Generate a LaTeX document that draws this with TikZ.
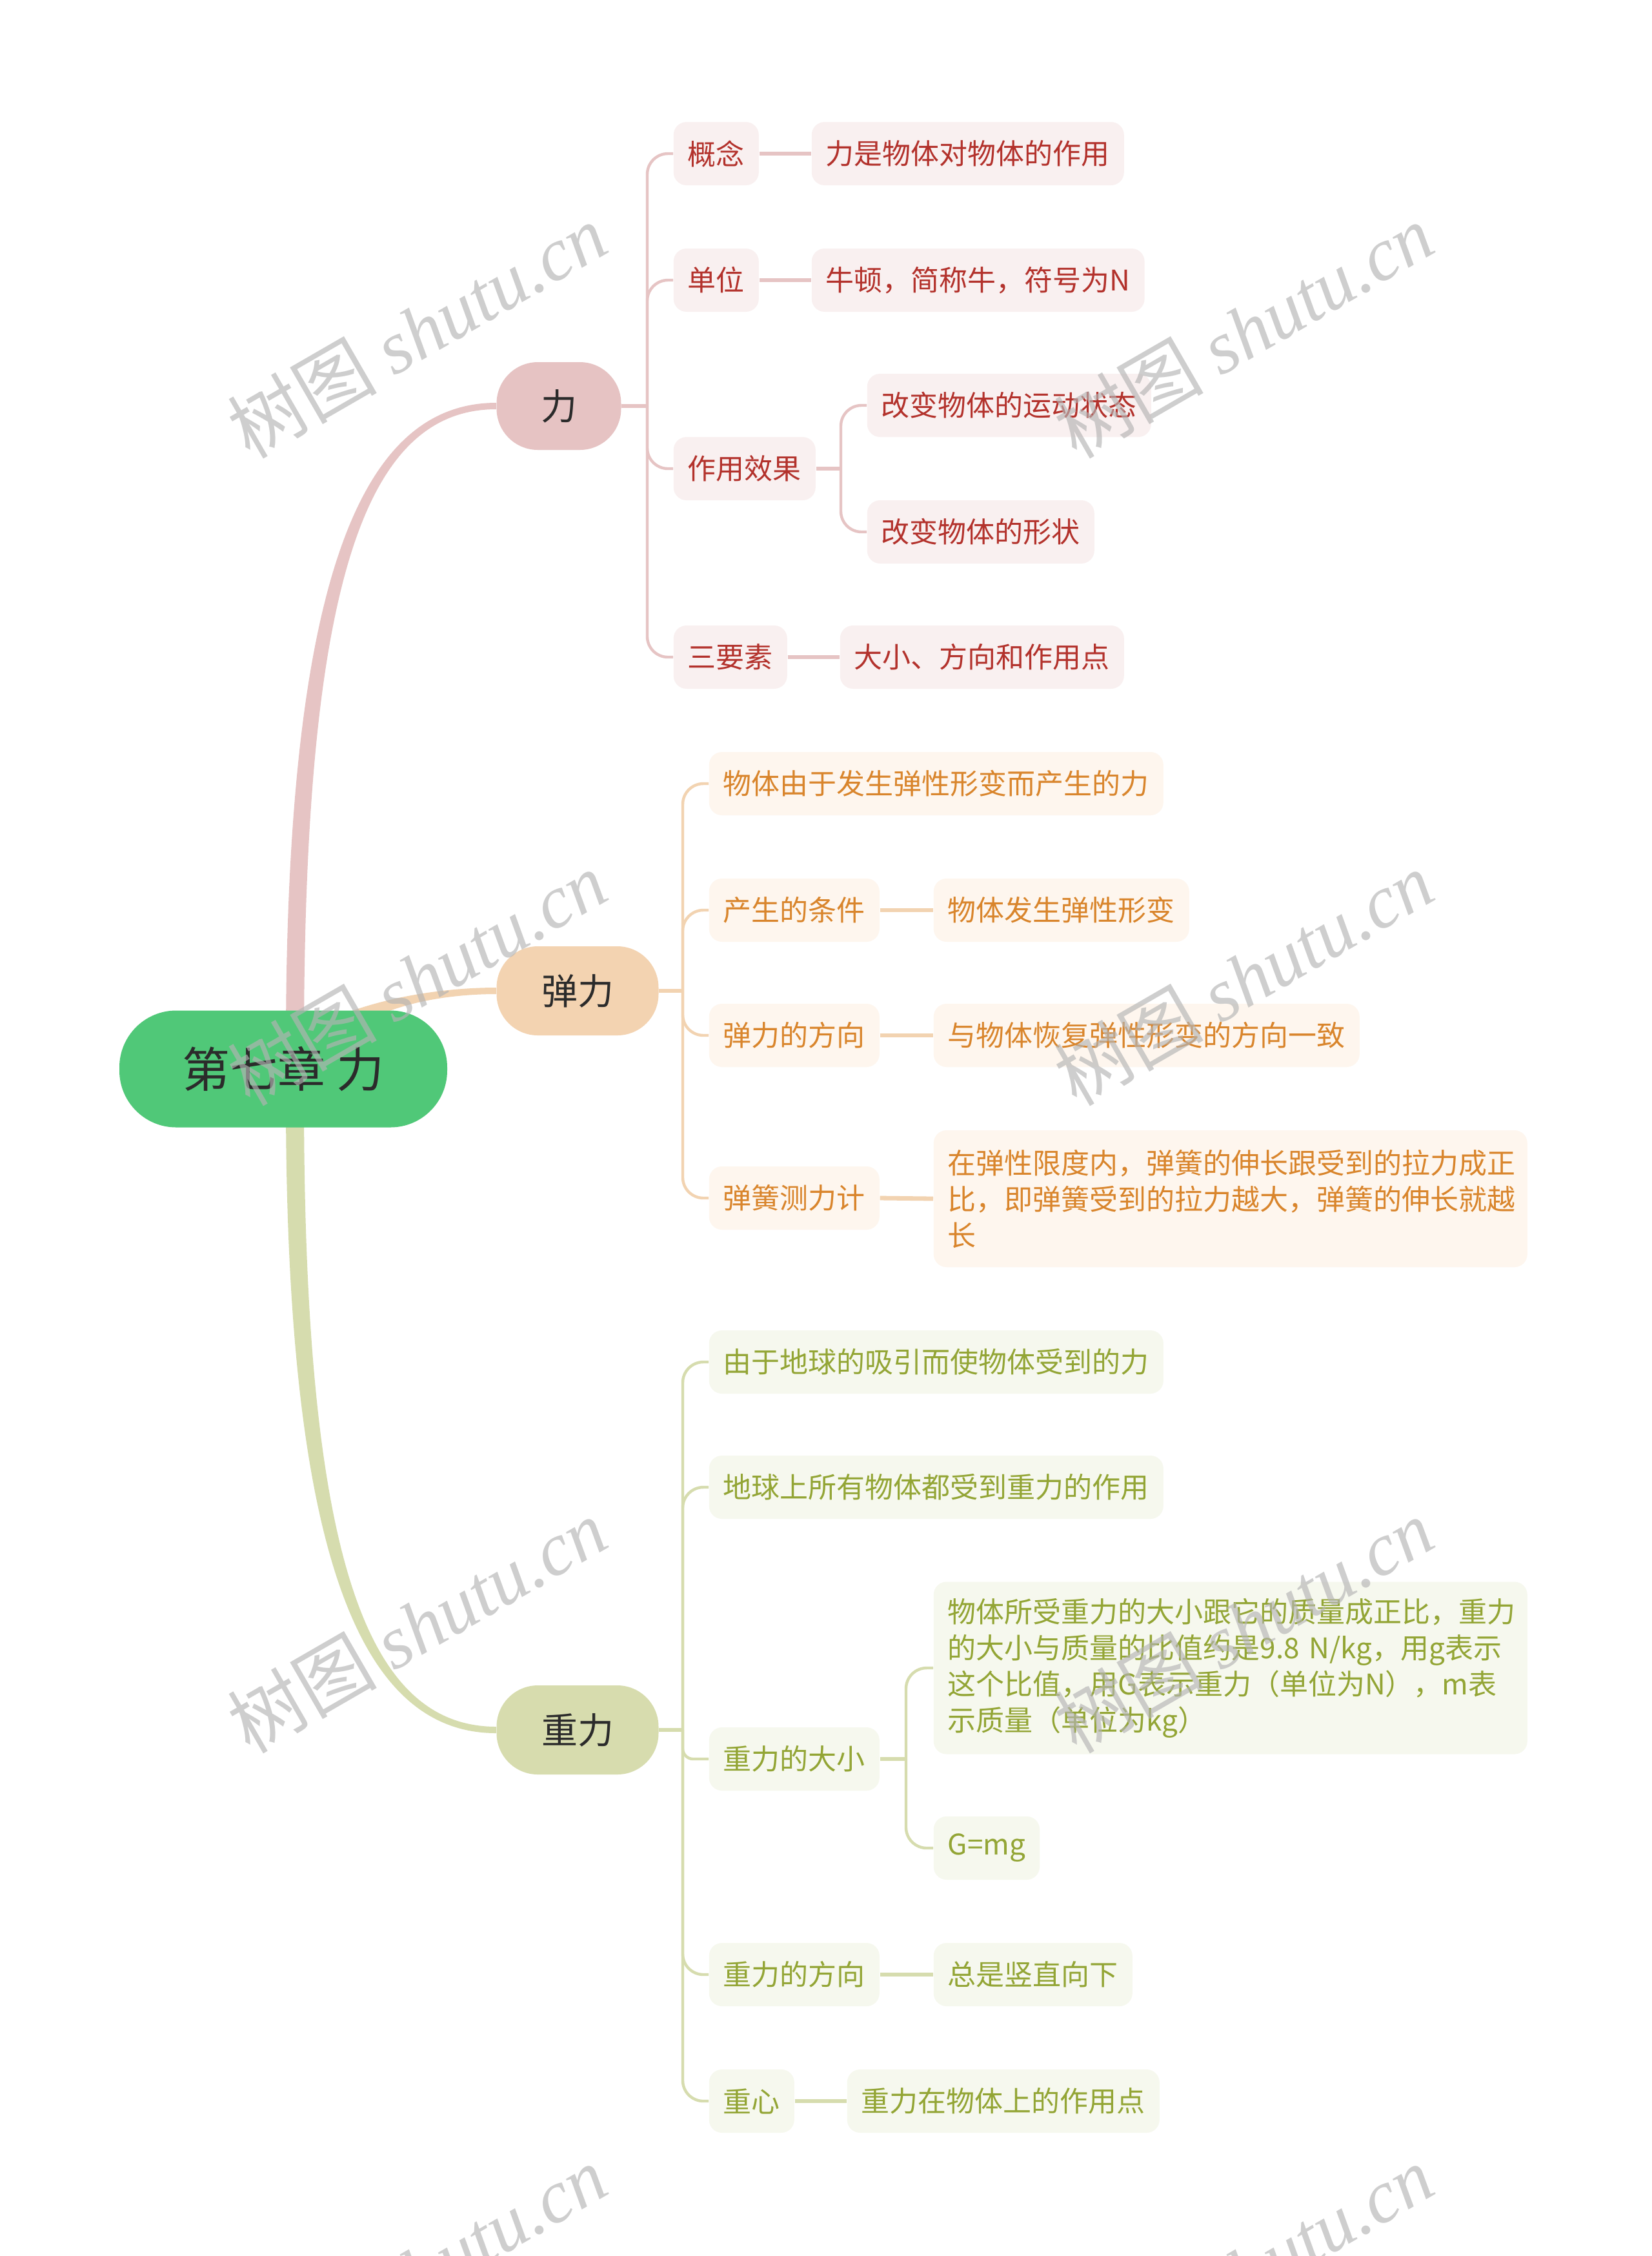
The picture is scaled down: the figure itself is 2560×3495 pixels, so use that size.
\documentclass[tikz,border=0pt]{standalone}
\usepackage{fontspec}
\setmainfont{Noto Sans CJK SC}
\newfontfamily\wmlatin{Liberation Serif}
\newfontfamily\wmcjk{Noto Sans CJK SC}
\definecolor{pkLine}{HTML}{E6C4C4}
\definecolor{pkMain}{HTML}{E6C3C3}
\definecolor{pkSub}{HTML}{F9F0F0}
\definecolor{pkText}{HTML}{B3322C}
\definecolor{ogLine}{HTML}{F2D3B1}
\definecolor{ogMain}{HTML}{F3D3B1}
\definecolor{ogSub}{HTML}{FEF6EE}
\definecolor{ogText}{HTML}{D9852C}
\definecolor{olLine}{HTML}{D6DCAE}
\definecolor{olMain}{HTML}{D7DCAE}
\definecolor{olSub}{HTML}{F6F8EE}
\definecolor{olText}{HTML}{93A535}
\definecolor{rootFill}{HTML}{50C878}
\definecolor{darkText}{HTML}{2B2B2B}
\definecolor{wmGray}{HTML}{B4B4B4}
\begin{document}
\begin{tikzpicture}[x=0.25pt,y=-0.25pt,
  base/.style={rounded corners=5pt, minimum height=24.5pt, inner xsep=5.5pt, inner ysep=3pt,
    font=\fontsize{11pt}{14pt}\selectfont, anchor=west},
  pk/.style={base, fill=pkSub, text=pkText},
  og/.style={base, fill=ogSub, text=ogText},
  ol/.style={base, fill=olSub, text=olText},
  mainnode/.style={rounded corners=16pt, minimum height=34pt, text=darkText,
    font=\fontsize{14pt}{17pt}\selectfont},
  lnk/.style={line width=1.1pt},
  hlk/.style={line width=1.7pt},
  stem/.style={line width=1.5pt},
  wm/.style={text=wmGray, text opacity=0.65, rotate=30, font=\fontsize{29pt}{29pt}\selectfont}
]
\useasboundingbox (0,0) rectangle (2560,3495);
\clip (0,0) rectangle (2560,3495);
\fill[white] (0,0) rectangle (2560,3495);

% main tapered connectors
\fill[pkLine] (443,1620) .. controls (443,895) and (560,624) .. (769,624)
  -- (769,634) .. controls (565,634) and (471,905) .. (471,1620) -- cycle;
\fill[olLine] (443,1700) .. controls (443,2415) and (560,2685) .. (769,2685)
  -- (769,2675) .. controls (565,2675) and (471,2405) .. (471,1700) -- cycle;
\fill[ogLine] (470,1600) .. controls (560,1548) and (680,1530) .. (769,1530)
  -- (769,1540) .. controls (680,1540) and (580,1560) .. (530,1610) -- cycle;

% root
\node[fill=rootFill, rounded corners=22pt, minimum width=127pt, minimum height=45.25pt,
  text=darkText, font=\fontsize{18.5pt}{22pt}\selectfont] (root) at (439,1656) {第七章 力};

% main nodes
\node[mainnode, fill=pkMain, minimum width=48.25pt] (li) at (866,629) {力};
\node[mainnode, fill=ogMain, minimum width=62.75pt, minimum height=34.5pt] (tl) at (895,1535) {弹力};
\node[mainnode, fill=olMain, minimum width=62.75pt, minimum height=34.5pt] (zl) at (895,2680) {重力};

% 力 branch
\node[pk] (a1) at (1043,238) {概念};
\node[pk] (a1t) at (1257,238) {力是物体对物体的作用};
\node[pk] (a2) at (1043,434) {单位};
\node[pk] (a2t) at (1257,434) {牛顿，简称牛，符号为N};
\node[pk] (a3) at (1043,726) {作用效果};
\node[pk] (a3a) at (1343,628) {改变物体的运动状态};
\node[pk] (a3b) at (1343,824) {改变物体的形状};
\node[pk] (a4) at (1043,1018) {三要素};
\node[pk] (a4t) at (1301,1018) {大小、方向和作用点};

% 弹力 branch
\node[og] (b1) at (1098,1214) {物体由于发生弹性形变而产生的力};
\node[og] (b2) at (1098,1410) {产生的条件};
\node[og] (b2t) at (1446,1410) {物体发生弹性形变};
\node[og] (b3) at (1098,1604) {弹力的方向};
\node[og] (b3t) at (1446,1604) {与物体恢复弹性形变的方向一致};
\node[og] (b4) at (1098,1856) {弹簧测力计};
\node[og, text width=219pt, align=left, minimum height=53pt] (b4t) at (1446,1857)
  {在弹性限度内，弹簧的伸长跟受到的拉力成正\\比，即弹簧受到的拉力越大，弹簧的伸长就越\\长};

% 重力 branch
\node[ol] (c1) at (1098,2110) {由于地球的吸引而使物体受到的力};
\node[ol] (c2) at (1098,2304) {地球上所有物体都受到重力的作用};
\node[ol] (c3) at (1098,2725) {重力的大小};
\node[ol, text width=219pt, align=left, minimum height=66.75pt] (c3a) at (1446,2584)
  {物体所受重力的大小跟它的质量成正比，重力\\的大小与质量的比值约是9.8 N/kg，用g表示\\这个比值，用G表示重力（单位为N），m表\\示质量（单位为kg）};
\node[ol] (c3b) at (1446,2863) {G=mg};
\node[ol] (c4) at (1098,3059) {重力的方向};
\node[ol] (c4t) at (1446,3059) {总是竖直向下};
\node[ol] (c5) at (1098,3255) {重心};
\node[ol] (c5t) at (1312,3255) {重力在物体上的作用点};

% 力 connectors
\draw[pkLine, stem] (li.east) -- (1003,629);
\foreach \n/\y in {a1/238, a2/434, a3/726, a4/1018}
  \draw[pkLine, lnk, rounded corners=8pt] (1003,629) -- (1003,\y) -- (\n.west);
\draw[pkLine, hlk] (a1.east) -- (a1t.west);
\draw[pkLine, hlk] (a2.east) -- (a2t.west);
\draw[pkLine, hlk] (a4.east) -- (a4t.west);
\draw[pkLine, hlk] (a3.east) -- (1303,726);
\foreach \n/\y in {a3a/628, a3b/824}
  \draw[pkLine, lnk, rounded corners=8pt] (1303,726) -- (1303,\y) -- (\n.west);

% 弹力 connectors
\draw[ogLine, stem] (tl.east) -- (1058,1535);
\foreach \n/\y in {b1/1214, b2/1410, b3/1604, b4/1856}
  \draw[ogLine, lnk, rounded corners=8pt] (1058,1535) -- (1058,\y) -- (\n.west);
\draw[ogLine, hlk] (b2.east) -- (b2t.west);
\draw[ogLine, hlk] (b3.east) -- (b3t.west);
\draw[ogLine, hlk] (b4.east) -- (b4t.west);

% 重力 connectors
\draw[olLine, stem] (zl.east) -- (1058,2680);
\foreach \n/\y in {c1/2110, c2/2304, c4/3059, c5/3255}
  \draw[olLine, lnk, rounded corners=8pt] (1058,2680) -- (1058,\y) -- (\n.west);
\draw[olLine, lnk, rounded corners=4pt] (1058,2680) -- (1058,2725) -- (c3.west);
\draw[olLine, hlk] (c3.east) -- (1404,2725);
\foreach \n/\y in {c3a/2584, c3b/2863}
  \draw[olLine, lnk, rounded corners=8pt] (1404,2725) -- (1404,\y) -- (\n.west);
\draw[olLine, hlk] (c4.east) -- (c4t.west);
\draw[olLine, hlk] (c5.east) -- (c5t.west);

% watermarks
\foreach \wx in {646,1927}
  \foreach \wy in {512,1515,2518,3520}
    \node[wm] (w\wx\wy) at (\wx,\wy) {{\wmcjk 树图} {\wmlatin\itshape shutu.cn}};
\end{tikzpicture}
\end{document}
